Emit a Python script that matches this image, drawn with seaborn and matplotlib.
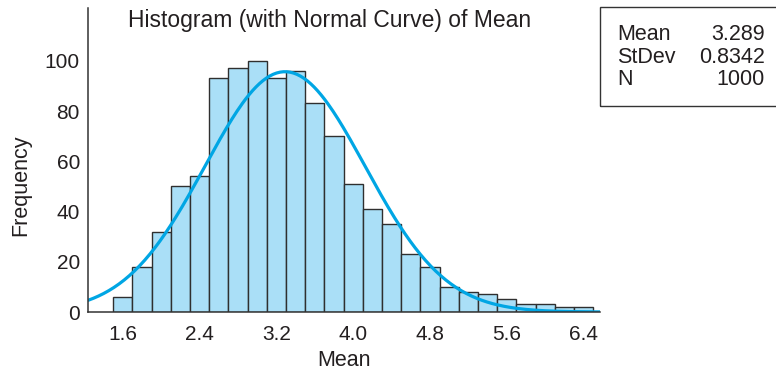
import numpy as np
import pandas as pd
import matplotlib
matplotlib.use('Agg')
import matplotlib.pyplot as plt
import seaborn as sns
from matplotlib.patches import Rectangle

# bin midpoints and frequencies
bin_mids = [1.6, 1.8, 2.0, 2.2, 2.4, 2.6, 2.8, 3.0, 3.2, 3.4, 3.6, 3.8, 4.0,
            4.2, 4.4, 4.6, 4.8, 5.0, 5.2, 5.4, 5.6, 5.8, 6.0, 6.2, 6.4]
freqs = [6, 18, 32, 50, 54, 93, 97, 100, 93, 96, 83, 70, 51,
         41, 35, 23, 18, 10, 8, 7, 5, 3, 3, 2, 2]
x_ticks = [1.6, 2.4, 3.2, 4.0, 4.8, 5.6, 6.4]
y_ticks = [0, 20, 40, 60, 80, 100]

mean_val = 3.289
sd_val = 0.8342
n_val = 1000
stat_names = ['Mean', 'StDev', 'N']
stat_values = ['3.289', '0.8342', '1000']

sns.set_style('white')
plt.rcParams['font.family'] = ['Liberation Sans', 'DejaVu Sans']
text_col = '#231f20'

df = pd.DataFrame({'Mean': bin_mids, 'Frequency': freqs})
width = 0.2

W, H = 776, 370
fig = plt.figure(figsize=(W / 100, H / 100), dpi=100)
ax_l, ax_r, ax_b, ax_t = 88.3, 600, 312, 8
ax = fig.add_axes([ax_l / W, (H - ax_b) / H, (ax_r - ax_l) / W, (ax_b - ax_t) / H])

sns.histplot(data=df, x='Mean', weights='Frequency', binwidth=width,
             binrange=(bin_mids[0] - width / 2, bin_mids[-1] + width / 2), ax=ax,
             color='#aadff7', alpha=1, edgecolor='#2f2f2f', linewidth=1.0)

# normal curve scaled to counts
xs = np.linspace(1.24, 6.57, 300)
ys = n_val * width * np.exp(-0.5 * ((xs - mean_val) / sd_val) ** 2) / (sd_val * np.sqrt(2 * np.pi))
sns.lineplot(x=xs, y=ys, ax=ax, color='#00a6e4', linewidth=2.3)

ax.set_xlim(1.24, 6.57)
ax.set_ylim(0, 121)
ax.set_xticks(x_ticks)
ax.set_xticklabels([f'{t:.1f}' for t in x_ticks])
ax.set_yticks(y_ticks)
for s in ['top', 'right']:
    ax.spines[s].set_visible(False)
for s in ['left', 'bottom']:
    ax.spines[s].set_color('#333333')
    ax.spines[s].set_linewidth(1.1)
ax.tick_params(axis='y', direction='in', length=8, width=1.1, color='#333333',
               labelsize=15, labelcolor=text_col, pad=6)
ax.tick_params(axis='x', length=0, labelsize=15, labelcolor=text_col, pad=9)

ax.set_xlabel('Mean', fontsize=15.5, color=text_col)
ax.set_ylabel('Frequency', fontsize=15.5, color=text_col)
ax.xaxis.set_label_coords(0.5, (ax_b - 350) / (ax_b - ax_t))
ax.yaxis.set_label_coords((31.7 - ax_l) / (ax_r - ax_l), (ax_b - 185) / (ax_b - ax_t))

fig.text(128 / W, (H - 27) / H, 'Histogram (with Normal Curve) of Mean',
         fontsize=16.5, color=text_col, ha='left', va='baseline')

# stats box
fig.patches.append(Rectangle((600 / W, (H - 106) / H), 0.3, 99 / H,
                             transform=fig.transFigure, fill=False,
                             edgecolor='#333333', linewidth=1.0))
for i, (name, val) in enumerate(zip(stat_names, stat_values)):
    yb = (H - (40 + 22.6 * i)) / H
    fig.text(617 / W, yb, name, fontsize=15.5, color=text_col, ha='left', va='baseline')
    fig.text(765 / W, yb, val, fontsize=15.5, color=text_col, ha='right', va='baseline')

fig.savefig('out.png', dpi=100)
